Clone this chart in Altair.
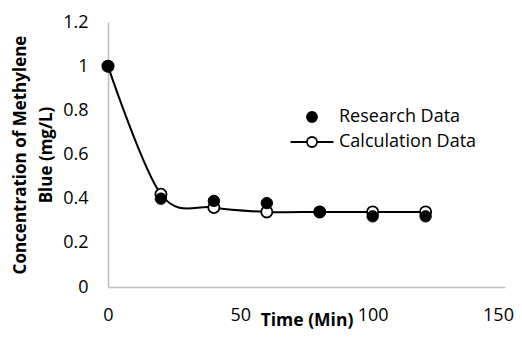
import altair as alt
import pandas as pd

time_min = [0, 20, 40, 60, 80, 100, 120]
research = [1.0, 0.40, 0.39, 0.38, 0.34, 0.32, 0.32]
calculation = [1.0, 0.42, 0.36, 0.34, 0.34, 0.34, 0.34]
series_names = ["Research Data", "Calculation Data"]
x_ticks = [0, 50, 100, 150]
y_ticks = [0, 0.2, 0.4, 0.6, 0.8, 1.0, 1.2]

calc_df = pd.DataFrame({"time": time_min, "value": calculation, "series": series_names[1]})
res_df = pd.DataFrame({"time": time_min, "value": research, "series": series_names[0]})
points_df = pd.concat([res_df, calc_df], ignore_index=True)

FONT = "Open Sans"
AXIS_GRAY = "#BFBFBF"

x_enc = alt.X(
    "time:Q",
    scale=alt.Scale(domain=[0, 150], nice=False),
    axis=alt.Axis(
        values=x_ticks, grid=False, ticks=False, domainColor=AXIS_GRAY, domainWidth=1.5,
        labelFont=FONT, labelFontSize=18, labelColor="black", labelPadding=19, labelFlush=False,
        labelOffset={"condition": {"test": "datum.value == 150", "value": -7}, "value": 0},
        title="Time (Min)", titleFont=FONT, titleFontSize=17.5, titleFontWeight="bold",
        titleColor="black", titleY=38, titleBaseline="alphabetic",
    ),
)
y_enc = alt.Y(
    "value:Q",
    scale=alt.Scale(domain=[0, 1.2], nice=False),
    axis=alt.Axis(
        values=y_ticks, format="~g", grid=False, ticks=False, domainColor=AXIS_GRAY, domainWidth=1.5,
        labelFont=FONT, labelFontSize=18, labelColor="black", labelPadding=20, labelFlush=False,
        title=["Concentration of Methylene", "Blue (mg/L)"], titleFont=FONT, titleFontSize=17,
        titleFontWeight="bold", titleColor="black", titleAngle=270, titleX=-88, titleY=132.5,
        titleAlign="center", titleBaseline="middle", titleLineHeight=26,
    ),
)

calc_path = "M-4.3,0L-1,0M1,0L4.3,0M1,0A1,1,0,1,1,-1,0A1,1,0,1,1,1,0Z"

line = alt.Chart(calc_df).mark_line(color="black", strokeWidth=2, interpolate="cardinal").encode(
    x=x_enc, y=y_enc
)

calc_points = alt.Chart(calc_df).mark_point(
    filled=True, fill="white", stroke="black", strokeWidth=1.8, size=125, opacity=1, shape="circle"
).encode(x=x_enc, y=y_enc)

res_points = alt.Chart(res_df).mark_point(
    filled=True, fill="black", stroke="black", strokeWidth=1, size=130, opacity=1, shape="circle"
).encode(x=x_enc, y=y_enc)


def leg():
    return alt.Legend(
        title=None, orient="none", legendX=195, legendY=86, symbolSize=100,
        labelFont=FONT, labelFontSize=18, labelColor="black", labelOffset=18,
        rowPadding=7, symbolStrokeWidth=1.8, symbolOpacity=1,
    )


legend_layer = alt.Chart(points_df).mark_point(
    filled=True, strokeWidth=1.8, opacity=1
).encode(
    x=x_enc,
    y=y_enc,
    fill=alt.Fill("series:N", scale=alt.Scale(domain=series_names, range=["black", "white"]), legend=leg()),
    stroke=alt.Stroke("series:N", scale=alt.Scale(domain=series_names, range=["black", "black"]), legend=leg()),
    shape=alt.Shape("series:N", scale=alt.Scale(domain=series_names, range=["circle", calc_path]), legend=leg()),
).transform_filter("false")

chart = alt.layer(line, calc_points, res_points, legend_layer).properties(
    width=397, height=265,
    autosize=alt.AutoSizeParams(type="none"),
    padding={"left": 100, "top": 14, "right": 9, "bottom": 43},
).configure_view(stroke=None)

chart.save("out.html", embed_options={"renderer": "svg", "actions": False})
